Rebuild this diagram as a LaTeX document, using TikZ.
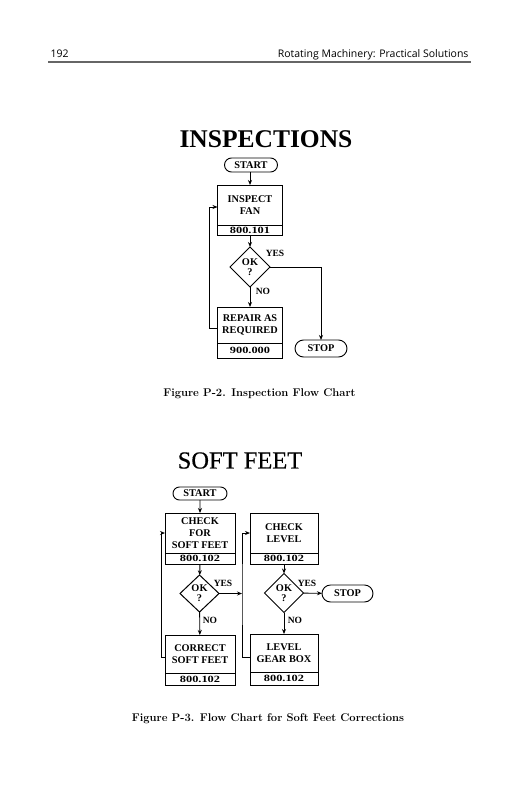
\documentclass[tikz,border=0pt]{standalone}
\usepackage{fontspec}
\usetikzlibrary{positioning,arrows.meta,shapes.geometric,shapes.misc}
\newfontfamily\chartfont{Liberation Serif}
\newfontfamily\codefont[FakeStretch=1.3]{Liberation Serif}
\newfontfamily\titlefont{Liberation Serif}
\newfontfamily\softtitlefont[FakeBold=0.4]{Liberation Serif}
\newfontfamily\headfont{Open Sans}

\begin{document}
\begin{tikzpicture}[x=1pt,y=-1pt,
  box/.style={draw,line width=1pt,outer sep=0pt,inner sep=0pt,align=center,
    font=\chartfont\bfseries\fontsize{10.3}{12}\selectfont},
  codebox/.style={draw,line width=1pt,outer sep=0pt,inner sep=0pt,
    font=\codefont\bfseries\fontsize{9.5}{10}\selectfont},
  decide/.style={diamond,draw,line width=1pt,outer sep=0pt,inner sep=0pt,align=center,
    minimum width=40pt,minimum height=40pt,font=\chartfont\bfseries\fontsize{10.3}{10}\selectfont},
  term/.style={rounded rectangle,draw,line width=0.9pt,outer sep=0pt,inner sep=0pt,
    font=\chartfont\bfseries\fontsize{10.3}{10}\selectfont},
  flow/.style={line width=0.9pt,-{Stealth[length=5pt,width=4pt]}},
  tag/.style={font=\chartfont\bfseries\fontsize{9.5}{10}\selectfont},
  caption/.style={font=\bfseries\fontsize{11.2}{12}\selectfont}]
\useasboundingbox[fill=white] (0,0) rectangle (514,800);

% running head
\node[anchor=base west,font=\headfont\fontsize{10.5}{12}\selectfont] (pagenum) at (47,57) {192};
\node[anchor=base east,font=\headfont\fontsize{10.5}{12}\selectfont] (runhead) at (472,57) {Rotating Machinery: Practical Solutions};
\draw[line width=1.4pt,black!60] (48,62) -- (471,62);

% Inspections
\node[font=\titlefont\bfseries\fontsize{25.5}{26}\selectfont] (title1) at (266,139) {INSPECTIONS};
\node[term,minimum width=53pt,minimum height=14pt] (start1) at (251,165) {START};
\node[box,minimum width=65pt,minimum height=40pt] (fan) at (250,205) {INSPECT\\FAN};
\node[codebox,minimum width=65pt,minimum height=10pt,below=0pt of fan] (fancode) {800.101};
\node[decide] (ok1) at (250,267) {OK\\?};
\node[box,minimum width=65pt,minimum height=36pt] (repair) at (250,325) {REPAIR AS\\REQUIRED};
\node[codebox,minimum width=65pt,minimum height=15pt,below=0pt of repair] (repaircode) {900.000};
\node[term,minimum width=52pt,minimum height=17pt] (stop1) at (321,348.5) {STOP};
\node[tag] (yes1) at (275,253) {YES};
\node[tag] (no1) at (263,291) {NO};

\draw[flow] (start1.south -| fan.north) -- (fan.north);
\draw[flow] (fancode) -- (ok1);
\draw[flow] (ok1) -- (repair);
\draw[flow] (ok1.east) -| (stop1.north);
\draw[flow] ([yshift=-3pt]repair.west) -- ++(-8,0) |- ([yshift=-2pt]fan.west);

\node[caption] (cap1) at (259.5,393.5) {Figure P-2. Inspection Flow Chart};

% Soft feet
\node[font=\softtitlefont\fontsize{24.5}{26}\selectfont] (title2) at (240,460.5) {SOFT FEET};
\node[term,minimum width=54pt,minimum height=13pt] (start2) at (200,493.5) {START};
\node[box,minimum width=70pt,minimum height=40pt] (check) at (200,533) {CHECK\\FOR\\SOFT FEET};
\node[codebox,minimum width=70pt,minimum height=11pt,below=0pt of check] (checkcode) {800.102};
\node[decide,minimum width=39pt,minimum height=37pt] (ok2) at (199.5,593.5) {OK\\?};
\node[box,minimum width=70pt,minimum height=38pt] (correct) at (200,654) {CORRECT\\SOFT FEET};
\node[codebox,minimum width=70pt,minimum height=12pt,below=0pt of correct] (correctcode) {800.102};
\node[tag] (yes2) at (223,583) {YES};
\node[tag] (no2) at (210,620) {NO};

\node[box,minimum width=68pt,minimum height=40pt] (level) at (284,533) {CHECK\\LEVEL};
\node[codebox,minimum width=68pt,minimum height=11pt,below=0pt of level] (levelcode) {800.102};
\node[decide,minimum width=39pt,minimum height=39pt] (ok3) at (284,593) {OK\\?};
\node[box,minimum width=68pt,minimum height=38pt] (gear) at (284,653) {LEVEL\\GEAR BOX};
\node[codebox,minimum width=68pt,minimum height=13pt,below=0pt of gear] (gearcode) {800.102};
\node[term,minimum width=51pt,minimum height=17pt] (stop2) at (347.5,593.5) {STOP};
\node[tag] (yes3) at (307,583) {YES};
\node[tag] (no3) at (295,620) {NO};
\coordinate (join) at (242,593.5);

\draw[flow] (start2) -- (check);
\draw[flow] (checkcode) -- (ok2);
\draw[flow] (ok2) -- (correct);
\draw[flow] (ok2.east) -- (join);
\draw[flow] ([yshift=-3pt]correct.west) -- ++(-4,0) |- (check.west);
\draw[flow] (levelcode) -- (ok3);
\draw[flow] (ok3) -- (gear);
\draw[flow] (ok3) -- (stop2);
\draw[flow] ([yshift=-4pt]gear.west) -| (join) |- (level.west);

\node[caption] (cap2) at (268,719) {Figure P-3. Flow Chart for Soft Feet Corrections};
\end{tikzpicture}
\end{document}
